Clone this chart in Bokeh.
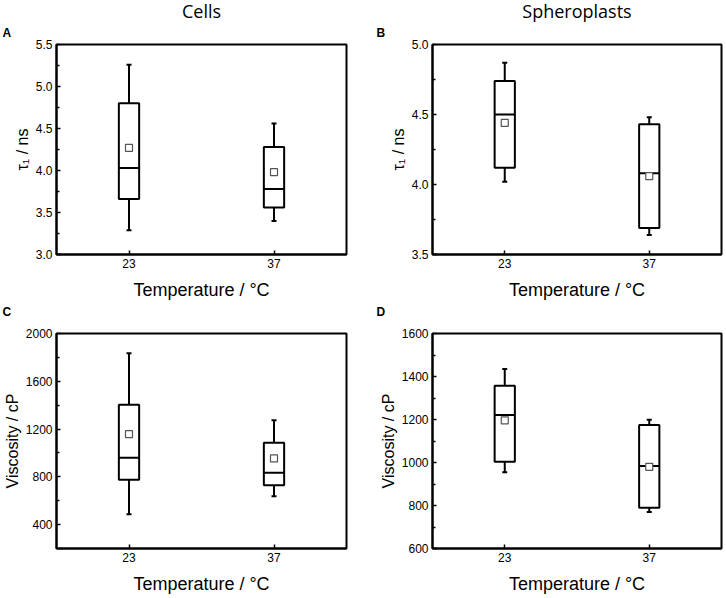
from bokeh.plotting import figure
from bokeh.layouts import gridplot
from bokeh.models import FactorRange, Range1d, FixedTicker, Title, PrintfTickFormatter
from bokeh.transform import dodge
from bokeh.embed import file_html
from bokeh.resources import INLINE

temps = ["23", "37"]

# Panel A: Cells, tau1
a_low = [3.29, 3.40]
a_q1 = [3.66, 3.56]
a_median = [4.03, 3.78]
a_mean = [4.27, 3.98]
a_q3 = [4.80, 4.28]
a_high = [5.26, 4.56]
a_yticks = [3.0, 3.5, 4.0, 4.5, 5.0, 5.5]
a_yminor = [3.25, 3.75, 4.25, 4.75, 5.25]

# Panel B: Spheroplasts, tau1
b_low = [4.02, 3.64]
b_q1 = [4.12, 3.69]
b_median = [4.50, 4.08]
b_mean = [4.44, 4.06]
b_q3 = [4.74, 4.43]
b_high = [4.87, 4.48]
b_yticks = [3.5, 4.0, 4.5, 5.0]
b_yminor = [3.75, 4.25, 4.75]

# Panel C: Cells, viscosity
c_low = [487, 638]
c_q1 = [775, 730]
c_median = [960, 834]
c_mean = [1158, 954]
c_q3 = [1404, 1085]
c_high = [1835, 1273]
c_yticks = [400, 800, 1200, 1600, 2000]
c_yminor = [600, 1000, 1400, 1800]

# Panel D: Spheroplasts, viscosity
d_low = [955, 770]
d_q1 = [1003, 790]
d_median = [1221, 984]
d_mean = [1196, 980]
d_q3 = [1357, 1174]
d_high = [1435, 1199]
d_yticks = [600, 800, 1000, 1200, 1400, 1600]
d_yminor = [700, 900, 1100, 1300, 1500]

TICK_FONT = "Liberation Sans"


def letter_title(text, dx, standoff):
    return Title(text=text, align="left", offset=dx,
                 text_font=TICK_FONT, text_font_style="bold",
                 text_font_size="12px", text_color="black",
                 standoff=standoff)


def panel(width, height, bl, br, bt, bb, yr, yticks, yminor, ylabel, fmt,
          low, q1, med, mean, q3, high):
    p = figure(width=width, height=height,
               x_range=FactorRange(factors=temps),
               y_range=Range1d(yr[0], yr[1]),
               output_backend="svg", toolbar_location=None,
               min_border_left=bl, min_border_right=br,
               min_border_top=bt, min_border_bottom=bb)
    p.grid.visible = False
    p.outline_line_color = "black"
    p.outline_line_width = 2
    p.outline_line_alpha = 1.0
    p.background_fill_color = "white"
    p.border_fill_color = "white"

    for ax in (p.xaxis[0], p.yaxis[0]):
        ax.axis_line_color = "black"
        ax.axis_line_width = 2
        ax.major_tick_in = 4
        ax.major_tick_out = 0
        ax.major_tick_line_width = 1.5
        ax.major_tick_line_color = "black"
        ax.minor_tick_in = 3
        ax.minor_tick_out = 0
        ax.minor_tick_line_width = 1.5
        ax.minor_tick_line_color = "black"
        ax.major_label_text_font = TICK_FONT
        ax.major_label_text_font_size = "12px"
        ax.major_label_text_color = "black"
        ax.axis_label_text_font = TICK_FONT
        ax.axis_label_text_font_style = "normal"
        ax.axis_label_text_color = "black"

    p.xaxis.major_label_standoff = 4
    p.xaxis.axis_label = "Temperature / °C"
    p.xaxis.axis_label_text_font_size = "18px"
    p.xaxis.axis_label_standoff = 9

    p.yaxis.ticker = FixedTicker(ticks=yticks, minor_ticks=yminor)
    p.yaxis.formatter = PrintfTickFormatter(format=fmt)
    p.yaxis.major_label_standoff = 4
    p.yaxis.axis_label = ylabel
    p.yaxis.axis_label_text_font_size = "16px"
    p.yaxis.axis_label_standoff = 2

    bw = 0.14
    # whiskers
    p.segment(x0=temps, y0=q3, x1=temps, y1=high, line_color="black", line_width=2)
    p.segment(x0=temps, y0=low, x1=temps, y1=q1, line_color="black", line_width=2)
    p.scatter(x=temps, y=high, marker="dash", size=5, line_color="black", line_width=2)
    p.scatter(x=temps, y=low, marker="dash", size=5, line_color="black", line_width=2)
    # boxes
    p.vbar(x=temps, width=bw, top=q3, bottom=q1, fill_color="white",
           line_color="black", line_width=2)
    # medians
    src = {"t": temps, "m": med}
    p.segment(x0=dodge("t", -bw / 2, range=p.x_range), y0="m",
              x1=dodge("t", bw / 2, range=p.x_range), y1="m",
              source=src, line_color="black", line_width=2)
    # means
    p.scatter(x=temps, y=mean, marker="square", size=7, fill_color="white",
              line_color="#555555", line_width=1.2)
    return p


pa = panel(363, 318, 55, 17, 43, 61, (3.0, 5.5), a_yticks, a_yminor, "τ₁ / ns", "%.1f",
           a_low, a_q1, a_median, a_mean, a_q3, a_high)
pb = panel(361, 318, 69, 3, 43, 61, (3.5, 5.0), b_yticks, b_yminor, "τ₁ / ns", "%.1f",
           b_low, b_q1, b_median, b_mean, b_q3, b_high)
pc = panel(363, 278, 55, 17, 15, 47, (200, 2000), c_yticks, c_yminor, "Viscosity / cP", "%d",
           c_low, c_q1, c_median, c_mean, c_q3, c_high)
pd = panel(361, 278, 69, 3, 15, 47, (600, 1600), d_yticks, d_yminor, "Viscosity / cP", "%d",
           d_low, d_q1, d_median, d_mean, d_q3, d_high)

# panel letters and column headings
pa.add_layout(letter_title("A", -54, 9), "above")
pa.add_layout(Title(text="Cells", align="center", offset=-18, text_font="Open Sans",
                    text_font_style="normal", text_font_size="18px",
                    text_color="black", standoff=-7), "above")
pb.add_layout(letter_title("B", -56, 9), "above")
pb.add_layout(Title(text="Spheroplasts", align="center", offset=-4, text_font="Open Sans",
                    text_font_style="normal", text_font_size="18px",
                    text_color="black", standoff=-7), "above")
pa.add_layout(letter_title("C", -54, 0), "below")
pb.add_layout(letter_title("D", -56, 0), "below")

grid = gridplot([[pa, pb], [pc, pd]], toolbar_location=None)

open("out.html", "w").write(file_html(grid, INLINE))
